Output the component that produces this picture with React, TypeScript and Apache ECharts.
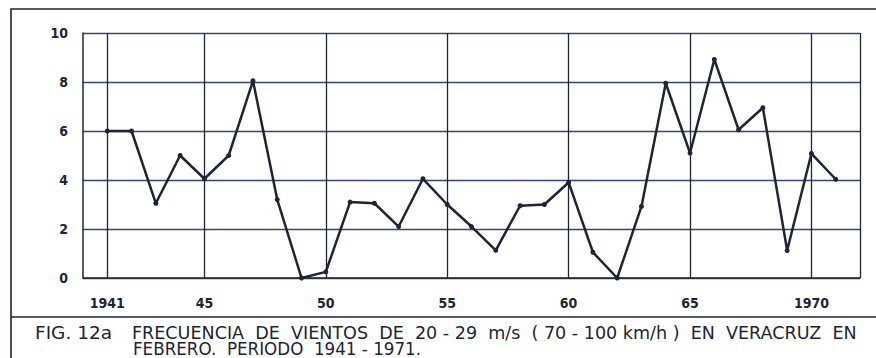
import React, { useEffect, useRef } from "react";
import * as echarts from "echarts";

const years = [
  1941, 1942, 1943, 1944, 1945, 1946, 1947, 1948, 1949, 1950, 1951, 1952, 1953, 1954, 1955, 1956,
  1957, 1958, 1959, 1960, 1961, 1962, 1963, 1964, 1965, 1966, 1967, 1968, 1969, 1970, 1971,
];
const frequency = [
  6, 6, 3.05, 5, 4.05, 5, 8.05, 3.2, 0, 0.25, 3.1, 3.05, 2.1, 4.05, 3.0, 2.1,
  1.13, 2.95, 3.0, 3.9, 1.05, 0, 2.92, 7.95, 5.1, 8.92, 6.05, 6.95, 1.12, 5.08, 4.03,
];
const xLabelYears = [1941, 1945, 1950, 1955, 1960, 1965, 1970];
const xLabelTexts = ["1941", "45", "50", "55", "60", "65", "1970"];
const yTicks = [0, 2, 4, 6, 8, 10];

const captionFig = "FIG. 12a";
const captionLine1 = "FRECUENCIA  DE  VIENTOS  DE  20 - 29  m/s  ( 70 - 100 km/h )  EN  VERACRUZ  EN";
const captionLine2 = "FEBRERO.  PERIODO  1941 - 1971.";

const INK = "#1c2436";
const GRIDH = "#34466a";
const CAP_SIZE = 17;
const CAP_FONT = `${CAP_SIZE}px 'DejaVu Sans'`;

function fitScale(text: string, font: string, target: number): number {
  const ctx = document.createElement("canvas").getContext("2d");
  if (!ctx) return 1;
  ctx.font = font;
  const w = ctx.measureText(text).width;
  return w > 0 ? target / w : 1;
}

export default function App() {
  const ref = useRef<HTMLDivElement>(null);

  useEffect(() => {
    if (!ref.current) return;
    const chart = echarts.init(ref.current, undefined, { renderer: "svg" });

    const s0 = fitScale(captionFig, CAP_FONT, 77);
    const s1 = fitScale(captionLine1, CAP_FONT, 725);
    const s2 = fitScale(captionLine2, CAP_FONT, 288);

    const capStyle = (text: string) => ({
      text,
      x: 0,
      y: 0,
      fill: INK,
      font: CAP_FONT,
      fontFamily: "DejaVu Sans",
      fontSize: CAP_SIZE,
      verticalAlign: "middle" as const,
      align: "left" as const,
    });

    const labelMap: Record<number, string> = {};
    xLabelYears.forEach((y, i) => (labelMap[y] = xLabelTexts[i]));

    chart.setOption({
      animation: false,
      backgroundColor: "#ffffff",
      grid: { left: 83, right: 16, top: 33, bottom: 80 },
      xAxis: {
        type: "value",
        min: 1940,
        max: 1972,
        interval: 1,
        axisLine: { show: true, lineStyle: { color: INK, width: 1.5 } },
        axisTick: { show: false },
        splitLine: { show: false },
        axisLabel: {
          margin: 18,
          color: INK,
          fontFamily: "DejaVu Sans Condensed",
          fontWeight: "bold",
          fontSize: 14,
          formatter: (v: number) => labelMap[v] ?? "",
        },
      },
      yAxis: {
        type: "value",
        min: 0,
        max: 10,
        interval: 2,
        axisLine: { show: true, lineStyle: { color: INK, width: 1.5 } },
        axisTick: { show: false },
        splitLine: { show: true, lineStyle: { color: GRIDH, width: 1.3 } },
        axisLabel: {
          margin: 15,
          color: INK,
          fontFamily: "DejaVu Sans Condensed",
          fontWeight: "bold",
          fontSize: 14,
          formatter: (v: number) => (yTicks.includes(v) ? String(v) : ""),
        },
      },
      series: [
        {
          type: "line",
          data: years.map((y, i) => [y, frequency[i]]),
          symbol: "circle",
          symbolSize: 5,
          lineStyle: { color: INK, width: 2.5 },
          itemStyle: { color: INK },
          z: 5,
          markLine: {
            silent: true,
            symbol: ["none", "none"],
            label: { show: false },
            lineStyle: { color: INK, width: 1.3, type: "solid" },
            data: [...xLabelYears, 1972].map((y) => ({ xAxis: y })),
            z: 1,
          },
        },
      ],
      graphic: [
        {
          type: "rect",
          shape: { x: 11, y: 9, width: 900, height: 360 },
          style: { fill: "none", stroke: INK, lineWidth: 1.6 },
          silent: true,
        },
        {
          type: "line",
          shape: { x1: 11, y1: 317, x2: 876, y2: 317 },
          style: { stroke: INK, lineWidth: 1.6 },
          silent: true,
        },
        { type: "text", x: 35, y: 333.5, scaleX: s0, style: capStyle(captionFig) },
        { type: "text", x: 132, y: 333.5, scaleX: s1, style: capStyle(captionLine1) },
        { type: "text", x: 133, y: 348.5, scaleX: s2, style: capStyle(captionLine2) },
      ],
    });

    return () => chart.dispose();
  }, []);

  return (
    <div
      ref={ref}
      style={{ position: "fixed", left: 0, top: 0, width: 876, height: 358, background: "#fff" }}
    />
  );
}
